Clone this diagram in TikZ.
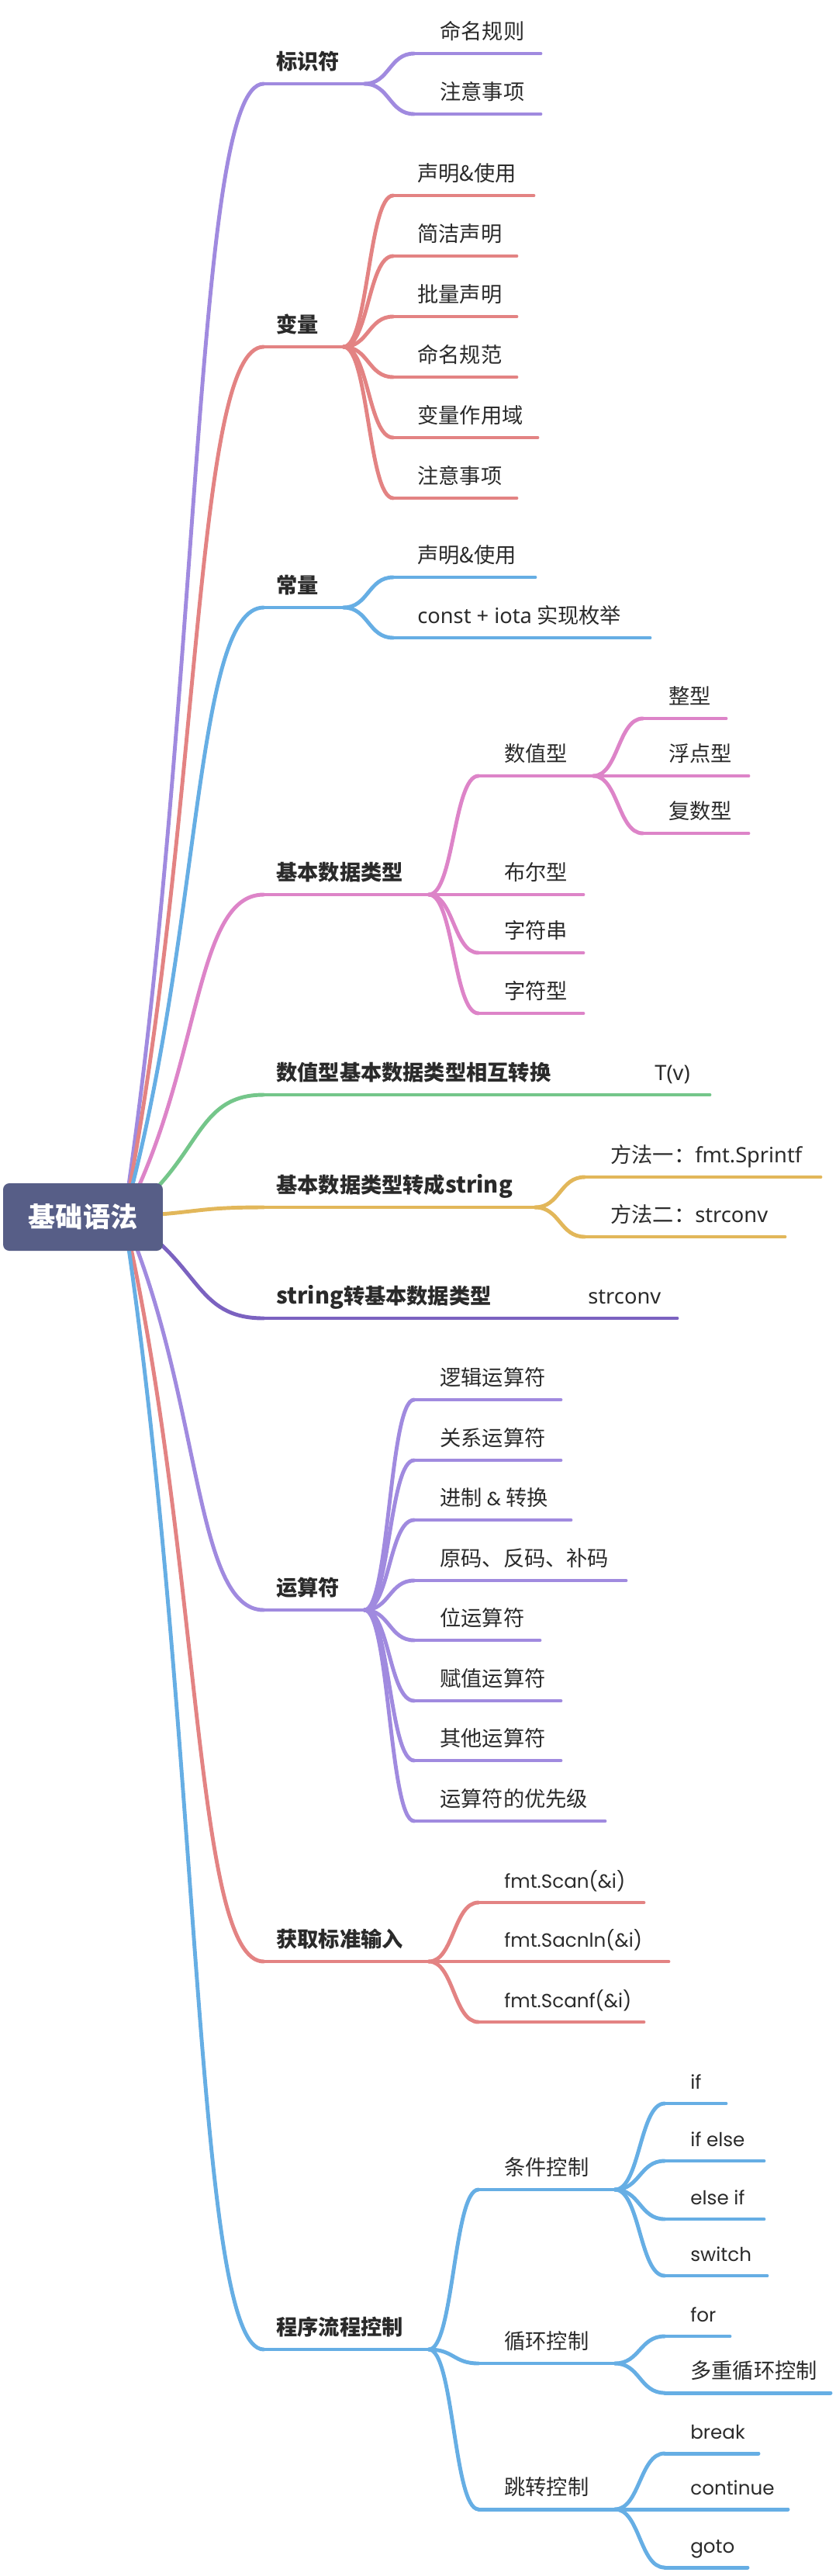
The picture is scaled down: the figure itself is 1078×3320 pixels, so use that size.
\documentclass[tikz,border=0pt]{standalone}
\usepackage{fontspec}
\setmainfont{Noto Sans CJK SC}
\newfontfamily\ns{Noto Sans}
\newfontfamily\pp{Poppins}
\definecolor{cPur}{HTML}{A08ADF}
\definecolor{cRed}{HTML}{E38383}
\definecolor{cBlu}{HTML}{66AEE4}
\definecolor{cPnk}{HTML}{DD84C8}
\definecolor{cGrn}{HTML}{74C68A}
\definecolor{cYel}{HTML}{E2B75A}
\definecolor{cDpu}{HTML}{7B62C0}
\definecolor{cRoot}{HTML}{575E87}
\definecolor{cTxt}{HTML}{2A2A2A}
% name, startx, endx, liney, textx, style, text
\newcommand\mapnode[7]{%
  \coordinate (#1-l) at (#2,#4);
  \coordinate (#1-r) at (#3,#4);
  \node[#6] (#1) at (#5,#4-19) {#7};}
\newcommand\uline[2]{\draw[br,#2] (#1-l) -- (#1-r);}
\newcommand\link[3]{\draw[br,#3] (#1-r) .. controls +(32,0) and +(-32,0) .. (#2-l);}
\newcommand\popp[1]{{\pp\fontsize{14pt}{17pt}\selectfont #1}}
\newcommand\bstr{{\fontsize{16.5pt}{18pt}\selectfont string}}
\begin{document}
\begin{tikzpicture}[x=0.02cm,y=-0.02cm,
  lvone/.style={anchor=base west,inner sep=0pt,text=cTxt,font=\bfseries\fontsize{15.5pt}{18pt}\selectfont},
  lvtwo/.style={anchor=base west,inner sep=0pt,text=cTxt,font=\fontsize{15.5pt}{18pt}\selectfont},
  br/.style={line width=2.8pt,line cap=round},
  rootbox/.style={fill=cRoot,rounded corners=0.16cm,minimum width=4.12cm,minimum height=1.74cm,text=white,font=\bfseries\fontsize{20pt}{24pt}\selectfont,inner sep=0pt}]
\useasboundingbox (0,0) rectangle (1078,3320);
\coordinate (hub) at (160,1568);

% level 1
\mapnode{a}{340}{470}{108}{356}{lvone}{标识符}
\mapnode{b}{340}{443}{447}{356}{lvone}{变量}
\mapnode{c}{340}{443}{783}{356}{lvone}{常量}
\mapnode{d}{340}{553}{1153}{356}{lvone}{基本数据类型}
\mapnode{e}{340}{747}{1411}{356}{lvone}{数值型基本数据类型相互转换}
\mapnode{f}{340}{690}{1556}{356}{lvone}{基本数据类型转成\bstr}
\mapnode{g}{340}{661}{1699}{356}{lvone}{\bstr 转基本数据类型}
\mapnode{h}{340}{470}{2075}{356}{lvone}{运算符}
\mapnode{i}{340}{553}{2528}{356}{lvone}{获取标准输入}
\mapnode{j}{340}{553}{3028}{356}{lvone}{程序流程控制}

\draw[br,cPur] (hub) .. controls (260,901) and (250,108) .. (a-l);
\draw[br,cRed] (hub) .. controls (260,1056) and (250,447) .. (b-l);
\draw[br,cBlu] (hub) .. controls (260,1209) and (250,783) .. (c-l);
\draw[br,cPnk] (hub) .. controls (260,1378) and (250,1153) .. (d-l);
\draw[br,cGrn] (hub) .. controls (260,1496) and (250,1411) .. (e-l);
\draw[br,cYel] (hub) .. controls (260,1563) and (250,1556) .. (f-l);
\draw[br,cDpu] (hub) .. controls (260,1628) and (250,1699) .. (g-l);
\draw[br,cPur] (hub) .. controls (260,1800) and (250,2075) .. (h-l);
\draw[br,cRed] (hub) .. controls (260,2007) and (250,2528) .. (i-l);
\draw[br,cBlu] (hub) .. controls (260,2235) and (250,3028) .. (j-l);

\node[rootbox] (root) at (107,1568.5) {基础语法};

\uline{a}{cPur} \uline{b}{cRed} \uline{c}{cBlu} \uline{d}{cPnk} \uline{e}{cGrn}
\uline{f}{cYel} \uline{g}{cDpu} \uline{h}{cPur} \uline{i}{cRed} \uline{j}{cBlu}

% 标识符
\mapnode{a1}{534}{697}{69}{567}{lvtwo}{命名规则}
\mapnode{a2}{534}{697}{147}{567}{lvtwo}{注意事项}
\foreach \n in {a1,a2}{\uline{\n}{cPur}\link{a}{\n}{cPur}}

% 变量
\mapnode{b1}{507}{688}{252}{538}{lvtwo}{声明\&使用}
\mapnode{b2}{507}{666}{330}{538}{lvtwo}{简洁声明}
\mapnode{b3}{507}{666}{408}{538}{lvtwo}{批量声明}
\mapnode{b4}{507}{666}{486}{538}{lvtwo}{命名规范}
\mapnode{b5}{507}{693}{564}{538}{lvtwo}{变量作用域}
\mapnode{b6}{507}{666}{642}{538}{lvtwo}{注意事项}
\foreach \n in {b1,b2,b3,b4,b5,b6}{\uline{\n}{cRed}\link{b}{\n}{cRed}}

% 常量
\mapnode{c1}{507}{690}{744}{538}{lvtwo}{声明\&使用}
\mapnode{c2}{507}{838}{822}{538}{lvtwo}{{\ns const + iota} 实现枚举}
\foreach \n in {c1,c2}{\uline{\n}{cBlu}\link{c}{\n}{cBlu}}

% 基本数据类型
\mapnode{d1}{617}{765}{1000}{650}{lvtwo}{数值型}
\mapnode{d2}{617}{752}{1153}{650}{lvtwo}{布尔型}
\mapnode{d3}{617}{752}{1228}{650}{lvtwo}{字符串}
\mapnode{d4}{617}{752}{1306}{650}{lvtwo}{字符型}
\foreach \n in {d1,d2,d3,d4}{\uline{\n}{cPnk}\link{d}{\n}{cPnk}}
\mapnode{d11}{829}{936}{926}{862}{lvtwo}{整型}
\mapnode{d12}{829}{965}{1000}{862}{lvtwo}{浮点型}
\mapnode{d13}{829}{965}{1074}{862}{lvtwo}{复数型}
\foreach \n in {d11,d12,d13}{\uline{\n}{cPnk}\link{d1}{\n}{cPnk}}

% 数值型基本数据类型相互转换
\mapnode{e1}{811}{915}{1411}{844}{lvtwo}{{\ns T(v)}}
\uline{e1}{cGrn}\link{e}{e1}{cGrn}

% 基本数据类型转成string
\mapnode{f1}{754}{1058}{1517}{787}{lvtwo}{方法一：{\ns fmt.Sprintf}}
\mapnode{f2}{754}{1012}{1594}{787}{lvtwo}{方法二：{\ns strconv}}
\foreach \n in {f1,f2}{\uline{\n}{cYel}\link{f}{\n}{cYel}}

% string转基本数据类型
\mapnode{g1}{725}{873}{1699}{758}{lvtwo}{{\ns strconv}}
\uline{g1}{cDpu}\link{g}{g1}{cDpu}

% 运算符
\mapnode{h1}{534}{723}{1804}{567}{lvtwo}{逻辑运算符}
\mapnode{h2}{534}{723}{1882}{567}{lvtwo}{关系运算符}
\mapnode{h3}{534}{736}{1959}{567}{lvtwo}{进制 \popp{\&} 转换}
\mapnode{h4}{534}{807}{2037}{567}{lvtwo}{原码、反码、补码}
\mapnode{h5}{534}{696}{2114}{567}{lvtwo}{位运算符}
\mapnode{h6}{534}{723}{2192}{567}{lvtwo}{赋值运算符}
\mapnode{h7}{534}{723}{2269}{567}{lvtwo}{其他运算符}
\mapnode{h8}{534}{780}{2347}{567}{lvtwo}{运算符的优先级}
\foreach \n in {h1,h2,h3,h4,h5,h6,h7,h8}{\uline{\n}{cPur}\link{h}{\n}{cPur}}

% 获取标准输入
\mapnode{i1}{617}{830}{2452}{650}{lvtwo}{\popp{fmt.Scan(\&i)}}
\mapnode{i2}{617}{862}{2528}{650}{lvtwo}{\popp{fmt.Sacnln(\&i)}}
\mapnode{i3}{617}{830}{2606}{650}{lvtwo}{\popp{fmt.Scanf(\&i)}}
\foreach \n in {i1,i2,i3}{\uline{\n}{cRed}\link{i}{\n}{cRed}}

% 程序流程控制
\mapnode{j1}{617}{793}{2822}{650}{lvtwo}{条件控制}
\mapnode{j2}{617}{793}{3046}{650}{lvtwo}{循环控制}
\mapnode{j3}{617}{793}{3234}{650}{lvtwo}{跳转控制}
\foreach \n in {j1,j2,j3}{\uline{\n}{cBlu}\link{j}{\n}{cBlu}}
\mapnode{j11}{857}{936}{2711}{890}{lvtwo}{\popp{if}}
\mapnode{j12}{857}{985}{2785}{890}{lvtwo}{\popp{if else}}
\mapnode{j13}{857}{985}{2860}{890}{lvtwo}{\popp{else if}}
\mapnode{j14}{857}{989}{2933}{890}{lvtwo}{\popp{switch}}
\foreach \n in {j11,j12,j13,j14}{\uline{\n}{cBlu}\link{j1}{\n}{cBlu}}
\mapnode{j21}{857}{941}{3011}{890}{lvtwo}{\popp{for}}
\mapnode{j22}{857}{1071}{3084}{890}{lvtwo}{多重循环控制}
\foreach \n in {j21,j22}{\uline{\n}{cBlu}\link{j2}{\n}{cBlu}}
\mapnode{j31}{857}{978}{3162}{890}{lvtwo}{\popp{break}}
\mapnode{j32}{857}{1016}{3234}{890}{lvtwo}{\popp{continue}}
\mapnode{j33}{857}{964}{3309}{890}{lvtwo}{\popp{goto}}
\foreach \n in {j31,j32,j33}{\uline{\n}{cBlu}\link{j3}{\n}{cBlu}}
\end{tikzpicture}
\end{document}
